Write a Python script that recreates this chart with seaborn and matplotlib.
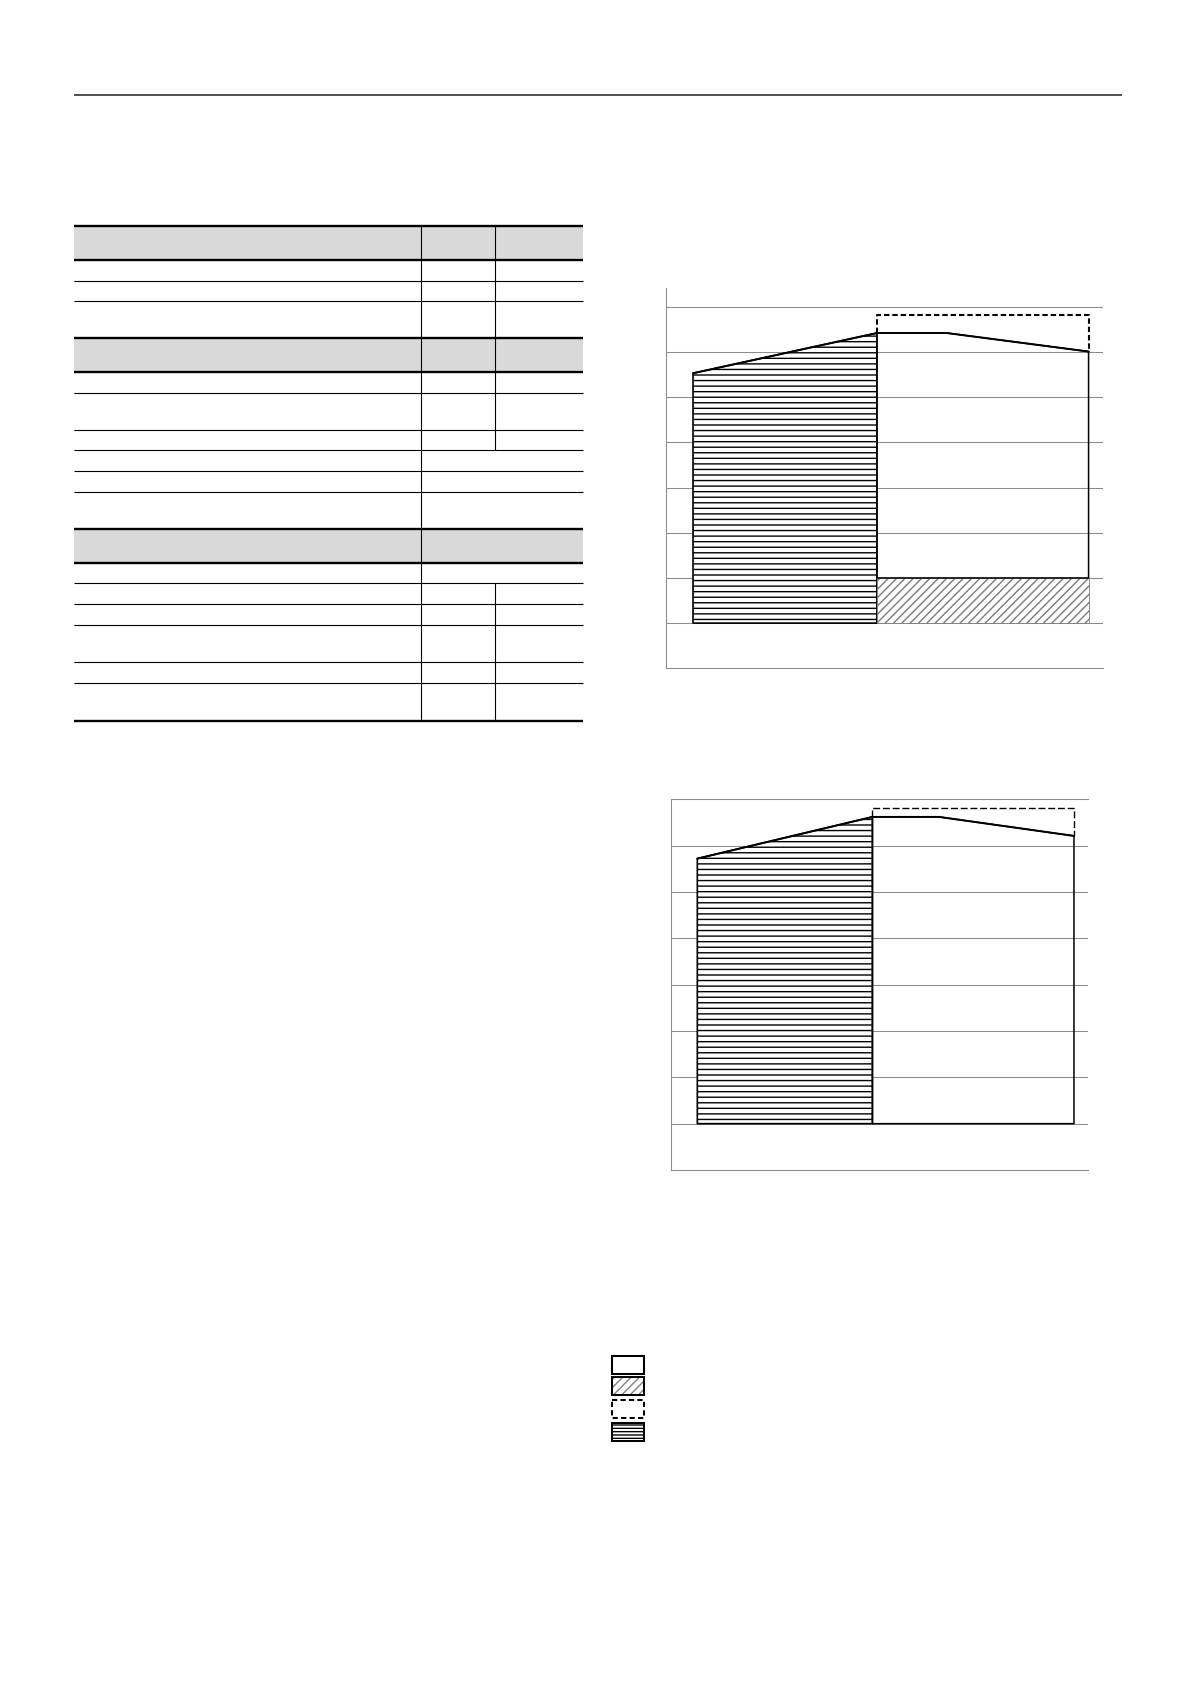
import matplotlib
matplotlib.use("Agg")
import matplotlib.pyplot as plt
from matplotlib.patches import Rectangle
import seaborn as sns

W, H = 1191, 1684

# ---------------- data ----------------
seg_x = [6.25, 48.3, 64.3, 96.7]          # breakpoints of the area profile (0..100 scale)
c1_top = [5.53, 6.42, 6.42, 6.01]          # chart 1 upper profile
c1_plan = 6.82                             # chart 1 dashed (planned) level
c1_base = 1.0                              # chart 1 diagonal-hatched base layer
c2_top = [5.72, 6.62, 6.62, 6.21]          # chart 2 upper profile
c2_plan = 6.81                             # chart 2 dashed level
c2_base = 0.0                              # chart 2 has no base layer
grid_levels = list(range(0, 8))

# ---------------- page layout (pixels) ----------------
tbl_left, tbl_c1, tbl_c2, tbl_right = 74, 421.3, 495.3, 583
row_lines = [225.7, 260, 281.3, 301.3, 337.7, 372.3, 393.3, 430.3, 450.3,
             471.3, 492.3, 528.7, 562.7, 583.3, 604.3, 625.3, 661.5, 683, 720.5]
thick_lines = [225.7, 260, 337.7, 372.3, 528.7, 562.7, 720.5]
header_bands = [(225.7, 260), (337.7, 372.3), (528.7, 562.7)]
c2_spans = [(225.7, 450.3), (583.3, 720.5)]
legend_tops = [1356, 1377.3, 1400.3, 1423.3]

GRID = "#8c8c8c"

sns.set_theme(style="white")
plt.rcParams["font.family"] = ["DejaVu Sans"]

fig = plt.figure(figsize=(W / 100, H / 100), dpi=100)
fig.patch.set_facecolor("white")

# overlay axes in pixel coordinates for page furniture (rule, table, legend)
ov = fig.add_axes([0, 0, 1, 1])
ov.set_xlim(0, W)
ov.set_ylim(H, 0)
ov.axis("off")

# top rule
ov.plot([74, 1122], [94.7, 94.7], color="#555555", lw=1.45, solid_capstyle="butt")

# table
for (y0, y1) in header_bands:
    ov.add_patch(Rectangle((tbl_left, y0), tbl_right - tbl_left, y1 - y0,
                           facecolor="#d9d9d9", edgecolor="none", zorder=1))
for y in row_lines:
    lw = 1.7 if y in thick_lines else 0.8
    ov.plot([tbl_left, tbl_right], [y, y], color="black", lw=lw,
            solid_capstyle="butt", zorder=3)
ov.plot([tbl_c1, tbl_c1], [row_lines[0], row_lines[-1]], color="black", lw=0.8, zorder=2)
for (y0, y1) in c2_spans:
    ov.plot([tbl_c2, tbl_c2], [y0, y1], color="black", lw=0.8, zorder=2)

# legend swatches
lx, lw_, lh = 612.3, 32, 17.5
ov.add_patch(Rectangle((lx, legend_tops[0]), lw_, lh, facecolor="white",
                       edgecolor="black", lw=1.45))
ov.add_patch(Rectangle((lx, legend_tops[1]), lw_, lh, facecolor="white",
                       edgecolor="#808080", hatch="////", lw=0))
ov.add_patch(Rectangle((lx, legend_tops[1]), lw_, lh, facecolor="none",
                       edgecolor="black", lw=1.45))
ov.add_patch(Rectangle((lx, legend_tops[2]), lw_, lh, facecolor="white",
                       edgecolor="black", lw=1.45, linestyle=(0, (2.6, 1.6))))
ov.add_patch(Rectangle((lx, legend_tops[3]), lw_, lh, facecolor="white",
                       edgecolor="black", hatch="-----", lw=1.45))


def draw_chart(ax, top, plan, base, ymax, dash_lw, dash, top_spine):
    ax.set_xlim(0, 100)
    ax.set_ylim(-1, ymax)
    ax.set_yticks(grid_levels)
    ax.set_xticks([])
    ax.grid(axis="y", color=GRID, lw=0.75)
    ax.grid(axis="x", visible=False)
    ax.set_axisbelow(True)
    ax.tick_params(length=0, labelleft=False, labelbottom=False)
    ax.set_facecolor("none")
    ax.spines["right"].set_visible(False)
    ax.spines["top"].set_visible(top_spine)
    for s in ax.spines.values():
        s.set_color(GRID)
        s.set_linewidth(0.75)
    # left, horizontally hatched block
    ax.fill_between(seg_x[:2], 0, top[:2], facecolor="white", edgecolor="black",
                    hatch="---", lw=1.2, zorder=2)
    # base diagonal-hatched layer
    if base > 0:
        ax.fill_between(seg_x[1:], 0, base, facecolor="white", edgecolor="#7a7a7a",
                        hatch="////", lw=0.6, zorder=2)
    # right, white block stacked on the base
    ax.fill_between(seg_x[1:], base, top[1:], facecolor="none", edgecolor="black",
                    lw=1.1, zorder=3)
    # dashed planned outline
    px = [seg_x[1], seg_x[1], seg_x[3], seg_x[3]]
    py = [top[1], plan, plan, top[3]]
    sns.lineplot(x=px, y=py, sort=False, estimator=None, color="black",
                 lw=dash_lw, linestyle=(0, dash), ax=ax, zorder=4)
    # solid upper profile
    sns.lineplot(x=seg_x, y=top, sort=False, estimator=None, color="black",
                 lw=1.4, ax=ax, zorder=5)
    ax.set_xlabel("")
    ax.set_ylabel("")


ax1 = fig.add_axes([665.7 / W, (H - 668.3) / H, 437.3 / W, 380 / H])
draw_chart(ax1, c1_top, c1_plan, c1_base, 7.41, 1.5, (2.6, 1.4), False)

ax2 = fig.add_axes([671.3 / W, (H - 1170) / H, 416.4 / W, 370.7 / H])
draw_chart(ax2, c2_top, c2_plan, c2_base, 7.0, 1.0, (5.0, 2.0), True)

fig.savefig("out.png", dpi=100, facecolor="white")
